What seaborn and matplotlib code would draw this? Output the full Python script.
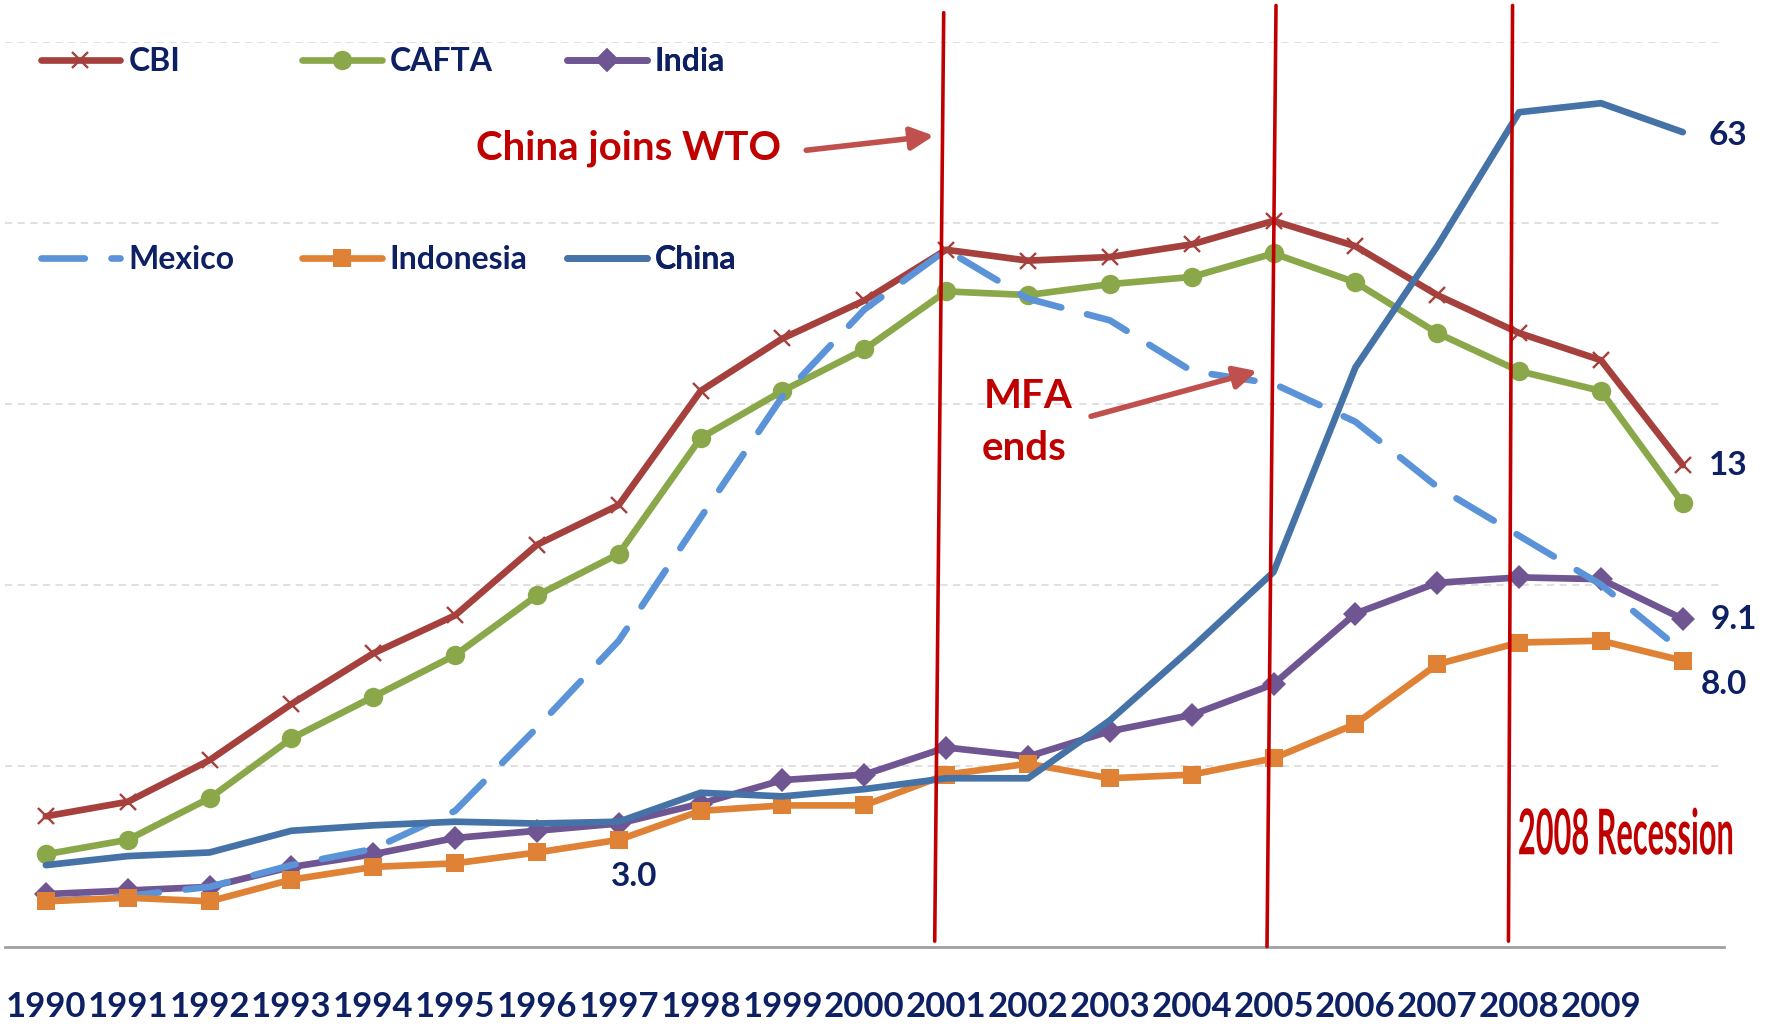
import pandas as pd
import matplotlib
matplotlib.use("Agg")
import matplotlib.pyplot as plt
import matplotlib.transforms as mtransforms
from matplotlib.textpath import TextPath
from matplotlib.patches import PathPatch
from matplotlib.font_manager import FontProperties
import seaborn as sns

# Data (arbitrary index units, axis has no tick labels)
years = list(range(1990, 2011))
year_labels = [str(y) for y in range(1990, 2010)] + [""]

cbi = [7.2, 8.0, 10.3, 13.4, 16.2, 18.3, 22.2, 24.4, 30.7, 33.6, 35.7,
       38.5, 37.9, 38.1, 38.8, 40.1, 38.7, 36.0, 33.9, 32.4, 26.6]
cafta = [5.1, 5.9, 8.2, 11.5, 13.8, 16.1, 19.4, 21.7, 28.1, 30.7, 33.0,
         36.2, 36.0, 36.6, 37.0, 38.3, 36.7, 33.9, 31.8, 30.7, 24.5]
india = [2.9, 3.1, 3.3, 4.4, 5.1, 6.0, 6.4, 6.8, 7.9, 9.2, 9.5,
         11.0, 10.5, 11.9, 12.8, 14.5, 18.4, 20.1, 20.4, 20.3, 18.1]
mexico = [2.5, 2.8, 3.3, 4.5, 5.4, 7.5, 12.1, 16.9, 23.7, 30.4, 35.2,
          38.5, 35.8, 34.6, 31.8, 31.1, 29.0, 25.4, 22.7, 20.0, 16.3]
indonesia = [2.5, 2.7, 2.5, 3.7, 4.4, 4.6, 5.2, 5.9, 7.5, 7.8, 7.8,
             9.5, 10.1, 9.3, 9.5, 10.4, 12.3, 15.6, 16.8, 16.9, 15.8]
china = [4.5, 5.0, 5.2, 6.4, 6.7, 6.9, 6.8, 6.9, 8.5, 8.3, 8.7,
         9.3, 9.3, 12.5, 16.5, 20.7, 32.0, 38.7, 46.1, 46.6, 45.0]

# legend order: row 1 then row 2
names = ["CBI", "CAFTA", "India", "Mexico", "Indonesia", "China"]
values = [cbi, cafta, india, mexico, indonesia, china]
colors = ["#A5403D", "#8AA84A", "#6F5592", "#5B93D8", "#E08236", "#4572A7"]
markers = ["x", "o", "D", None, "s", None]
msizes = {"x": 12, "o": 14, "D": 12, "s": 13}

navy = "#0D2063"
red = "#C00000"

sns.set_theme(style="white")
plt.rcParams['font.family'] = ['Lato', 'DejaVu Sans']

fig = plt.figure(figsize=(17.67, 10.26), dpi=100)
ax = fig.add_axes([0.0028, 0.0774, 0.9727, 0.882])

for name, vals, col, mk in zip(names, values, colors, markers):
    df = pd.DataFrame({"year": years, "value": vals})
    kw = dict(color=col, lw=4.8, label=name, solid_capstyle="round",
              solid_joinstyle="round", dash_capstyle="round")
    if mk is not None:
        kw.update(marker=mk, markeredgecolor=col, markerfacecolor=col,
                  markersize=msizes[mk],
                  markeredgewidth=1.7 if mk == "x" else 0)
    sns.lineplot(data=df, x="year", y="value", ax=ax, **kw)
    if name == "Mexico":
        ax.lines[-1].set_linestyle((0, (6.5, 4)))

ax.set_xlim(1989.5, 2010.5)
ax.set_ylim(0, 50)
ax.set_yticks([10, 20, 30, 40, 50])
ax.set_yticklabels([])
ax.yaxis.grid(True, color="#DDDDDD", linestyle=(0, (4, 3)), lw=1.3)
ax.xaxis.grid(False)
ax.set_xticks(years)
ax.set_xticklabels(year_labels, fontsize=25, fontweight="bold", color=navy)
ax.tick_params(axis="x", length=0, pad=32)
ax.tick_params(axis="y", length=0)
ax.set_xlabel("")
ax.set_ylabel("")
for s in ["top", "left", "right"]:
    ax.spines[s].set_visible(False)
ax.spines["bottom"].set_color("#A0A0A0")
ax.spines["bottom"].set_linewidth(2)

# event lines (hand drawn, slightly tilted)
ax.plot([2000.97, 2000.86], [51.6, 0.3], color=red, lw=2.6, clip_on=False, zorder=5)
ax.plot([2005.03, 2004.92], [52.0, 0.0], color=red, lw=2.6, clip_on=False, zorder=5)
ax.plot([2007.92, 2007.87], [52.0, 0.3], color=red, lw=2.6, clip_on=False, zorder=5)

arrow = dict(arrowstyle="-|>", color="#C0504D", lw=4, mutation_scale=34,
             shrinkA=0, shrinkB=0)
ax.annotate("", xy=(2000.85, 44.8), xytext=(1999.29, 44.0), arrowprops=arrow)
ax.annotate("", xy=(2004.80, 31.8), xytext=(2002.77, 29.3), arrowprops=arrow)

ax.text(1997.12, 44.1, "China joins WTO", color=red, fontsize=29,
        fontweight="bold", ha="center", va="center")
ax.text(2002.0, 30.4, "MFA", color=red, fontsize=29, fontweight="bold",
        ha="center", va="center")
ax.text(2001.95, 27.5, "ends", color=red, fontsize=29, fontweight="bold",
        ha="center", va="center")

# "2008 Recession" is a tall condensed label in the original
tp = TextPath((0, 0), "2008 Recession", size=63,
              prop=FontProperties(family="Lato", weight="bold"))
ext = tp.get_extents()
sx = 213.0 / ext.width
trans = (mtransforms.Affine2D().translate(-ext.x0, 0).scale(sx, 1.0)
         + mtransforms.ScaledTranslation(2008.0, 5.1, ax.transData))
ax.add_patch(PathPatch(tp, transform=trans, color=red, lw=0, clip_on=False))

# end-value labels
lab = dict(color=navy, fontsize=24, fontweight="bold", ha="center",
           va="center", clip_on=False)
ax.text(2010.55, 44.8, "63", **lab)
ax.text(2010.55, 26.6, "13", **lab)
ax.text(2010.62, 18.1, "9.1", **lab)
ax.text(2010.50, 14.5, "8.0", **lab)
ax.text(1997.19, 3.9, "3.0", **lab)

# legend: three columns, two rows
handles, labels = ax.get_legend_handles_labels()
if ax.get_legend():
    ax.get_legend().remove()
col_x = [0.0207, 0.1728, 0.3269]
for i, cx in enumerate(col_x):
    leg = ax.legend([handles[i], handles[i + 3]], [labels[i], labels[i + 3]],
                    loc="upper left", bbox_to_anchor=(cx, 0.994),
                    frameon=False, borderpad=0, borderaxespad=0,
                    handlelength=2.5, handletextpad=0.25, labelspacing=5.3,
                    prop={"weight": "bold", "size": 23}, labelcolor=navy)
    ax.add_artist(leg)

fig.savefig("out.png", dpi=100, facecolor="white")
